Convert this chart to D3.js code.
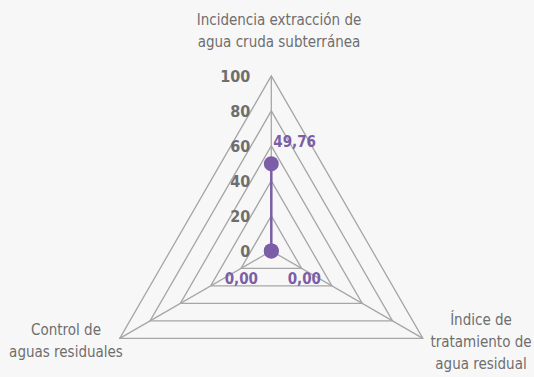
<!DOCTYPE html>
<html>
<head>
<meta charset="utf-8">
<style>
  body { margin: 0; background: #f7f7f7; }
  svg { display: block; font-family: "Liberation Sans Narrow", "DejaVu Sans Condensed", sans-serif; }
</style>
</head>
<body>
<svg width="534" height="377"></svg>
<script src="https://d3js.org/d3.v7.min.js"></script>
<script>

// data
var axes = [
  ["Incidencia extracción de", "agua cruda subterránea"],
  ["Índice de", "tratamiento de", "agua residual"],
  ["Control de", "aguas residuales"]
];
var values = [49.76, 0, 0];
var valueLabels = ["49,76", "0,00", "0,00"];
var ticks = [0, 20, 40, 60, 80, 100];

var svg = d3.select("svg"),
    width = +svg.attr("width"),
    height = +svg.attr("height");

var cx = 271.3, cy = 250.9;

var r = d3.scaleLinear().domain([0, 100]).range([0, 175]);

// axis angles, clockwise from top
var angle = d3.scaleLinear().domain([0, axes.length]).range([-Math.PI / 2, 3 * Math.PI / 2]);

function pt(i, v) {
  var a = angle(i);
  return [cx + r(v) * Math.cos(a), cy + r(v) * Math.sin(a)];
}

var purple = "#7b5ea7",
    grid = "#a6a6a6",
    textCol = "#6e6e6e";

var g = svg.append("g");

// grid triangles
g.selectAll(".grid")
  .data(ticks.slice(1))
  .enter().append("polygon")
    .attr("class", "grid")
    .attr("points", function(t) { return axes.map(function(d, i) { return pt(i, t); }).join(" "); })
    .attr("fill", "none")
    .attr("stroke", grid)
    .attr("stroke-width", 1.3);

// spokes
g.selectAll(".spoke")
  .data(axes)
  .enter().append("line")
    .attr("class", "spoke")
    .attr("x1", cx).attr("y1", cy)
    .attr("x2", function(d, i) { return pt(i, 100)[0]; })
    .attr("y2", function(d, i) { return pt(i, 100)[1]; })
    .attr("stroke", grid)
    .attr("stroke-width", 1.3);

// tick labels
g.selectAll(".tick")
  .data(ticks)
  .enter().append("text")
    .attr("class", "tick")
    .attr("x", cx - 21)
    .attr("y", function(t) { return cy - r(t); })
    .attr("dy", "0.36em")
    .attr("text-anchor", "end")
    .attr("font-size", 16)
    .attr("font-weight", "bold")
    .attr("fill", textCol)
    .text(function(t) { return t; });

// series
var line = d3.line().curve(d3.curveLinearClosed);
g.append("path")
  .attr("d", line(values.map(function(v, i) { return pt(i, v); })))
  .attr("fill", "none")
  .attr("stroke", purple)
  .attr("stroke-width", 2.5);

g.selectAll(".dot")
  .data(values)
  .enter().append("circle")
    .attr("class", "dot")
    .attr("cx", function(v, i) { return pt(i, v)[0]; })
    .attr("cy", function(v, i) { return pt(i, v)[1]; })
    .attr("r", 7.5)
    .attr("fill", purple);

// value labels
var labelOffsets = [[2, -22], [-30, 28], [33, 28]];
g.selectAll(".vlabel")
  .data(values)
  .enter().append("text")
    .attr("class", "vlabel")
    .attr("x", function(v, i) { return pt(i, v)[0] + labelOffsets[i][0]; })
    .attr("y", function(v, i) { return pt(i, v)[1] + labelOffsets[i][1]; })
    .attr("dy", "0.36em")
    .attr("text-anchor", function(v, i) { return i === 0 ? "start" : "middle"; })
    .attr("font-size", 15)
    .attr("font-weight", "bold")
    .attr("fill", purple)
    .text(function(v, i) { return valueLabels[i]; });

// axis labels
var labelPos = [[279, 20], [481, 320], [66, 330]];
var cat = g.selectAll(".cat")
  .data(axes)
  .enter().append("text")
    .attr("class", "cat")
    .attr("text-anchor", "middle")
    .attr("font-size", 15)
    .attr("fill", textCol);

cat.selectAll("tspan")
  .data(function(d, i) { return d.map(function(s) { return { s: s, i: i }; }); })
  .enter().append("tspan")
    .attr("x", function(d) { return labelPos[d.i][0]; })
    .attr("y", function(d, j) { return labelPos[d.i][1] + j * 22; })
    .attr("dy", "0.36em")
    .text(function(d) { return d.s; });

</script>
</body>
</html>
